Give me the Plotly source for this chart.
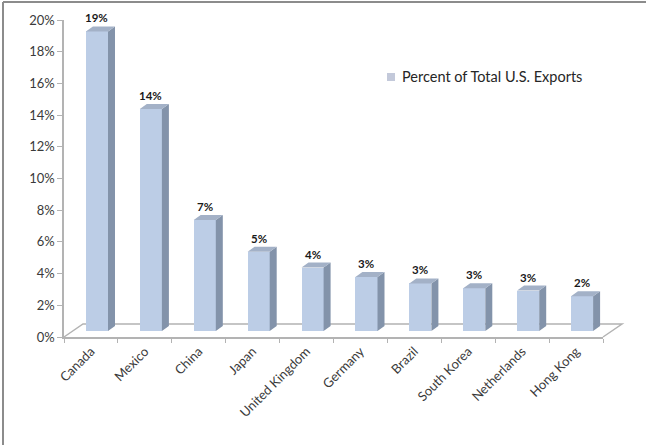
import plotly.graph_objects as go

# --- data -------------------------------------------------------------
countries = ["Canada", "Mexico", "China", "Japan", "United Kingdom",
             "Germany", "Brazil", "South Korea", "Netherlands", "Hong Kong"]
share_pct = [18.9, 14.0, 7.0, 5.0, 4.0, 3.4, 3.0, 2.7, 2.55, 2.2]
y_ticks = [0, 2, 4, 6, 8, 10, 12, 14, 16, 18, 20]
y_tick_labels = ["0%", "2%", "4%", "6%", "8%", "10%", "12%", "14%", "16%", "18%", "20%"]
series_name = "Percent of Total U.S. Exports"

# --- page geometry (pixels) -------------------------------------------
W, H = 646, 445
AX_L, AX_R = 64, 603          # front edge of the floor / category axis
Y_BOT, Y_TOP = 337, 20        # 0% and 20% on the value axis
SHIFT_X, SHIFT_Y = 6, 6       # columns stand a little behind the front edge
DEPTH_X, DEPTH_Y = 7, 5       # column depth (side / top faces)
FLOOR_X, FLOOR_Y = 19, 13     # floor depth
BAR_W = 0.41

FRONT = "#bccde6"
SIDE = "#8393aa"
TOP = "#a3b1c7"
EDGE = "#b3b3b3"
FONT = "Lato"

px_per_cat = (AX_R - AX_L) / len(countries)
px_per_pct = (Y_BOT - Y_TOP) / 20
dx = DEPTH_X / px_per_cat
dy = DEPTH_Y / px_per_pct


def fx(px):
    return px / W


def fy(py):
    return 1 - py / H


idx = list(range(len(countries)))

fig = go.Figure()

# invisible trace that carries the category axis
fig.add_trace(go.Scatter(x=countries, y=[0] * len(countries), mode="markers",
                         marker=dict(opacity=0), hoverinfo="skip",
                         showlegend=False, xaxis="x", yaxis="y"))

# front faces of the columns
fig.add_trace(go.Bar(x=idx, y=share_pct, width=BAR_W, name=series_name,
                     marker=dict(color=FRONT, line=dict(width=0)),
                     showlegend=False, xaxis="x2", yaxis="y2"))

# side and top faces, one closed polygon per column
side_x, side_y, top_x, top_y = [], [], [], []
for i, v in zip(idx, share_pct):
    xl, xr = i - BAR_W / 2, i + BAR_W / 2
    side_x += [xr, xr + dx, xr + dx, xr, xr, None]
    side_y += [0, dy, v + dy, v, 0, None]
    top_x += [xl, xl + dx, xr + dx, xr, xl, None]
    top_y += [v, v + dy, v + dy, v, v, None]

fig.add_trace(go.Scatter(x=side_x, y=side_y, mode="lines", fill="toself",
                         fillcolor=SIDE, line=dict(width=0, color=SIDE),
                         hoverinfo="skip", showlegend=False,
                         xaxis="x2", yaxis="y2"))
fig.add_trace(go.Scatter(x=top_x, y=top_y, mode="lines", fill="toself",
                         fillcolor=TOP, line=dict(width=0, color=TOP),
                         hoverinfo="skip", showlegend=False,
                         xaxis="x2", yaxis="y2"))

# value labels above the columns
annotations = []
for i, v in zip(idx, share_pct):
    annotations.append(dict(x=i, y=v + dy, xref="x2", yref="y2",
                            text=f"{v:.0f}%", showarrow=False,
                            yanchor="bottom", yshift=0,
                            font=dict(family=FONT, size=11.5, color="#1a1a1a",
                                      weight="bold")))

# legend entry
annotations.append(dict(x=fx(400), y=fy(77), xref="paper", yref="paper",
                        text=series_name, showarrow=False,
                        xanchor="left", yanchor="middle",
                        font=dict(family=FONT, size=14.5, color="#262626")))

shapes = [
    # floor outline (front edge is the category axis line)
    dict(type="path", xref="paper", yref="paper", layer="below",
         path=(f"M{fx(AX_L)},{fy(Y_BOT)} L{fx(AX_L + FLOOR_X)},{fy(Y_BOT - FLOOR_Y)} "
               f"L{fx(AX_R + FLOOR_X)},{fy(Y_BOT - FLOOR_Y)} L{fx(AX_R)},{fy(Y_BOT)}"),
         line=dict(color=EDGE, width=1.5)),
    # legend key
    dict(type="rect", xref="paper", yref="paper",
         x0=fx(387), x1=fx(395), y0=fy(81), y1=fy(73),
         fillcolor="#c3c9da", line=dict(width=0)),
    # outer frame (top and left sides)
    dict(type="line", xref="paper", yref="paper",
         x0=fx(3), x1=1, y0=fy(2), y1=fy(2),
         line=dict(color="#8c8c8c", width=2)),
    dict(type="line", xref="paper", yref="paper",
         x0=fx(3), x1=fx(3), y0=fy(2), y1=0,
         line=dict(color="#8c8c8c", width=2)),
]

axis_font = dict(family=FONT, size=13, color="#3a3a3a")

fig.update_layout(
    width=W, height=H,
    margin=dict(l=0, r=0, t=0, b=0),
    paper_bgcolor="white", plot_bgcolor="rgba(0,0,0,0)",
    showlegend=False,
    bargap=0,
    xaxis=dict(domain=[fx(AX_L), fx(AX_R)], anchor="y",
               type="category", categoryorder="array", categoryarray=countries,
               range=[-0.5, len(countries) - 0.5],
               tickson="boundaries", ticks="outside", ticklen=4,
               tickcolor=EDGE, showline=True, linecolor=EDGE, linewidth=1.5,
               showgrid=False, zeroline=False, tickangle=-45,
               tickfont=axis_font, automargin=False, fixedrange=True),
    yaxis=dict(domain=[fy(Y_BOT), fy(Y_TOP)], anchor="x",
               range=[0, 20], tickmode="array",
               tickvals=y_ticks, ticktext=y_tick_labels,
               ticks="outside", ticklen=5, tickcolor=EDGE,
               showline=True, linecolor=EDGE, linewidth=1.5,
               showgrid=False, zeroline=False,
               tickfont=axis_font, automargin=False, fixedrange=True),
    xaxis2=dict(domain=[fx(AX_L + SHIFT_X), fx(AX_R + SHIFT_X)], anchor="y2",
                range=[-0.5, len(countries) - 0.5], visible=False,
                fixedrange=True),
    yaxis2=dict(domain=[fy(Y_BOT - SHIFT_Y), fy(Y_TOP - SHIFT_Y)], anchor="x2",
                range=[0, 20], visible=False, fixedrange=True),
    annotations=annotations,
    shapes=shapes,
)

fig.write_html("out.html")
